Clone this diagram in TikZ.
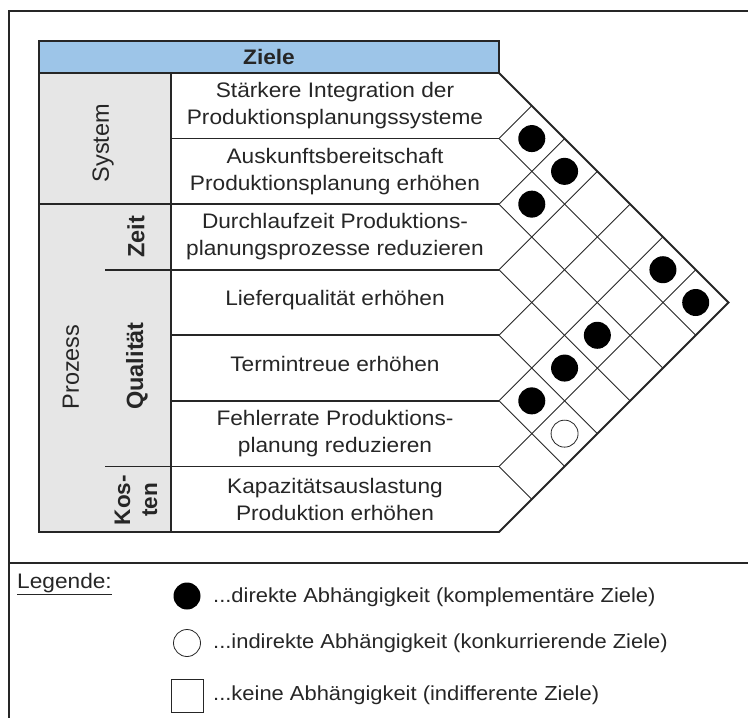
\documentclass[tikz,border=0pt]{standalone}
\usepackage{fontspec}
\setmainfont{Liberation Sans}[FakeStretch=1.08]
\newfontfamily\labelfont{Liberation Sans}
\definecolor{headblue}{RGB}{157,197,232}
\definecolor{sidegray}{RGB}{230,230,230}
\definecolor{ink}{RGB}{38,38,38}
\begin{document}
\begin{tikzpicture}[x=1pt,y=-1pt,
  thickline/.style={line width=1.8pt, draw=ink},
  gridline/.style={line width=0.9pt, draw=ink},
  celltext/.style={align=center, text=ink, inner sep=0pt, font=\fontsize{21}{27}\selectfont},
  grouplabel/.style={rotate=90, align=center, text=ink, inner sep=0pt, font=\labelfont\fontsize{23.5}{26}\selectfont},
  boldlabel/.style={grouplabel, font=\labelfont\fontsize{23.5}{26}\selectfont\bfseries},
  fulldot/.style={circle, fill=black, inner sep=0pt, minimum size=27pt},
  emptydot/.style={circle, draw=ink, line width=0.8pt, fill=white, inner sep=0pt, minimum size=27pt},
  legtext/.style={anchor=west, text=ink, inner sep=0pt, font=\fontsize{20.3}{24}\selectfont}]
\useasboundingbox (0,0) rectangle (748,718);

% geometry of the matrix
\def\ytop{73}
\def\ybot{532}
\def\rh{65.571}
\def\xr{499}

% outer frame and legend separator
\draw[line width=2pt, draw=ink] (9,718) -- (9,11) -- (748,11);
\draw[line width=2pt, draw=ink] (9,563) -- (748,563);

% fills
\fill[headblue] (39,41) rectangle (499,73);
\fill[sidegray] (39,73) rectangle (171,532);

% diagonal grid of the correlation triangle
\foreach \k in {1,...,6}{
  \pgfmathsetmacro{\yk}{\ytop+\k*\rh}
  \pgfmathsetmacro{\dd}{(\ybot-\yk)/2}
  \pgfmathsetmacro{\du}{(\yk-\ytop)/2}
  \draw[gridline] (\xr,\yk) -- ++(\dd,\dd);
  \draw[gridline] (\xr,\yk) -- ++(\du,-\du);
}

% row separators
\foreach \k in {1,3,4,5,6}{
  \pgfmathsetmacro{\yk}{\ytop+\k*\rh}
  \draw[thickline] (171,\yk) -- (\xr,\yk);
}
\draw[thickline] (39,204.14) -- (\xr,204.14);
\draw[thickline] (105,269.71) -- (171,269.71);
\draw[thickline] (105,466.43) -- (171,466.43);
\draw[thickline] (171,73) -- (171,532);
\draw[thickline] (39,73) -- (499,73);

% outline of the whole table
\draw[thickline, line join=miter] (499,532) -- (39,532) -- (39,41) -- (499,41) -- (499,73) -- (728.5,302.5) -- cycle;

% header
\node[celltext, font=\fontsize{21}{24}\selectfont\bfseries] (ziele) at (269,57) {Ziele};

% goal texts
\node[celltext] (r1) at (335,105.8) {Stärkere Integration der\\Produktionsplanungssysteme};
\node[celltext] (r2) at (335,171.4) {Auskunftsbereitschaft\\Produktionsplanung erhöhen};
\node[celltext] (r3) at (335,236.9) {Durchlaufzeit Produktions-\\planungsprozesse reduzieren};
\node[celltext] (r4) at (335,300) {Lieferqualität erhöhen};
\node[celltext] (r5) at (335,364) {Termintreue erhöhen};
\node[celltext] (r6) at (335,433.6) {Fehlerrate Produktions-\\planung reduzieren};
\node[celltext] (r7) at (335,499.2) {Kapazitätsauslastung\\Produktion erhöhen};

% group labels
\node[grouplabel] (system) at (103,143) {System};
\node[grouplabel] (prozess) at (71,367) {Prozess};
\node[boldlabel] (zeit) at (136,237) {Zeit};
\node[boldlabel] (qualitaet) at (137,366) {Qualität};
\node[boldlabel, font=\labelfont\fontsize{22.5}{27}\selectfont\bfseries] (kosten) at (136,500) {Kos-\\ten};

% dependencies: centre of cell (i,j)
\newcommand{\cellpos}[2]{({\xr+(#2-#1)*\rh/2},{\ytop+(#1+#2-1)*\rh/2})}
\node[fulldot] (d12) at \cellpos{1}{2} {};
\node[fulldot] (d13) at \cellpos{1}{3} {};
\node[fulldot] (d23) at \cellpos{2}{3} {};
\node[fulldot] (d16) at \cellpos{1}{6} {};
\node[fulldot] (d17) at \cellpos{1}{7} {};
\node[fulldot] (d36) at \cellpos{3}{6} {};
\node[fulldot] (d46) at \cellpos{4}{6} {};
\node[fulldot] (d56) at \cellpos{5}{6} {};
\node[emptydot] (d57) at \cellpos{5}{7} {};

% legend
\node[anchor=base west, text=ink, inner sep=0pt, font=\fontsize{21}{24}\selectfont] (legende) at (17,588) {\underline{Legende:}};
\node[fulldot] (lfull) at (187,596) {};
\node[emptydot] (lempty) at (187,643) {};
\node[draw=ink, line width=0.9pt, minimum width=32pt, minimum height=33pt, inner sep=0pt] (lnone) at (187,695.5) {};
\node[legtext] (t1) at (213,597) {...direkte Abhängigkeit (komplementäre Ziele)};
\node[legtext] (t2) at (213,643) {...indirekte Abhängigkeit (konkurrierende Ziele)};
\node[legtext] (t3) at (213,695) {...keine Abhängigkeit (indifferente Ziele)};
\end{tikzpicture}
\end{document}
